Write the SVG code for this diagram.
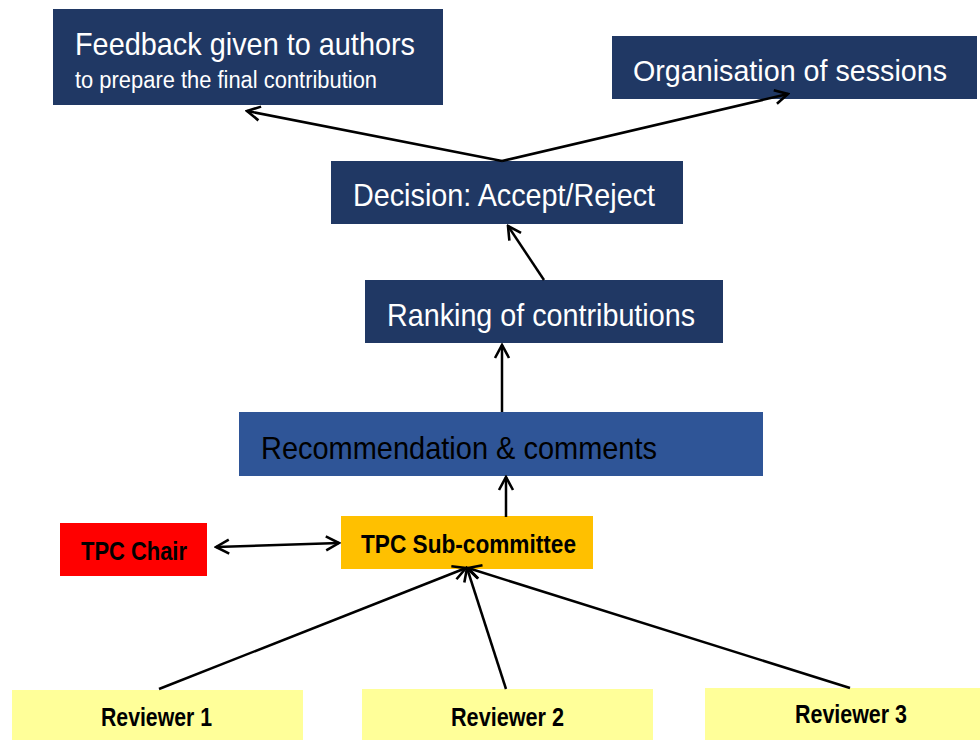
<svg xmlns="http://www.w3.org/2000/svg" width="980" height="740" viewBox="0 0 980 740">
<style>
.navy{fill:#203864}
.wt{fill:#ffffff;font-family:"Liberation Sans",Arial,sans-serif}
.bk{fill:#000000;font-family:"Liberation Sans",Arial,sans-serif}
.bd{fill:#000000;font-family:"Liberation Sans",Arial,sans-serif;font-weight:bold}
.rev{fill:#FFFF99}
.conn{stroke:#000;stroke-width:2.5;fill:none;marker-end:url(#arr)}
</style>
<defs>
<marker id="arr" viewBox="-15 -9 17 18" refX="0" refY="0" markerWidth="17" markerHeight="18" markerUnits="userSpaceOnUse" orient="auto-start-reverse">
<path d="M-13,-7 L0,0 L-13,7" fill="none" stroke="#000" stroke-width="2.6"/>
</marker>
</defs>
<rect width="980" height="740" fill="#ffffff"/>
<g id="feedback">
<rect class="navy" x="53" y="9" width="390" height="96"/>
<text class="wt" x="75" y="55" font-size="32" textLength="340" lengthAdjust="spacingAndGlyphs">Feedback given to authors</text>
<text class="wt" x="75" y="88" font-size="23" textLength="302" lengthAdjust="spacingAndGlyphs">to prepare the final contribution</text>
</g>
<g id="organisation">
<rect class="navy" x="612" y="36" width="365" height="63"/>
<text class="wt" x="633" y="81" font-size="30" textLength="314" lengthAdjust="spacingAndGlyphs">Organisation of sessions</text>
</g>
<g id="decision">
<rect class="navy" x="331" y="161" width="352" height="63"/>
<text class="wt" x="353" y="206" font-size="32" textLength="302" lengthAdjust="spacingAndGlyphs">Decision: Accept/Reject</text>
</g>
<g id="ranking">
<rect class="navy" x="365" y="280" width="358" height="63"/>
<text class="wt" x="387" y="326" font-size="32" textLength="308" lengthAdjust="spacingAndGlyphs">Ranking of contributions</text>
</g>
<g id="recommendation">
<rect x="239" y="412" width="524" height="64" fill="#2F5597"/>
<text class="bk" x="261" y="459" font-size="32" textLength="396" lengthAdjust="spacingAndGlyphs">Recommendation &amp; comments</text>
</g>
<g id="tpc-sub">
<rect x="341" y="516" width="252" height="53" fill="#FFC000"/>
<text class="bd" x="361" y="553" font-size="25" textLength="215" lengthAdjust="spacingAndGlyphs">TPC Sub-committee</text>
</g>
<g id="tpc-chair">
<rect x="60" y="523" width="147" height="53" fill="#FF0000"/>
<text class="bd" x="81" y="560" font-size="26" textLength="106" lengthAdjust="spacingAndGlyphs">TPC Chair</text>
</g>
<g id="reviewer1">
<rect class="rev" x="12" y="690" width="291" height="50"/>
<text class="bd" x="101" y="726" font-size="26" textLength="111" lengthAdjust="spacingAndGlyphs">Reviewer 1</text>
</g>
<g id="reviewer2">
<rect class="rev" x="362" y="689" width="291" height="51"/>
<text class="bd" x="451" y="726" font-size="26" textLength="113" lengthAdjust="spacingAndGlyphs">Reviewer 2</text>
</g>
<g id="reviewer3">
<rect class="rev" x="705" y="688" width="275" height="52"/>
<text class="bd" x="795" y="723" font-size="26" textLength="112" lengthAdjust="spacingAndGlyphs">Reviewer 3</text>
</g>
<g id="connectors">
<path class="conn" d="M502,161 L247,111"/>
<path class="conn" d="M502,161 L788,94"/>
<path class="conn" d="M544,280 L508,226"/>
<path class="conn" d="M502,412 L502,345"/>
<path class="conn" d="M506,517 L506,477"/>
<path class="conn" d="M216,547 L339,543" style="marker-start:url(#arr)"/>
<path class="conn" d="M159,689 L466,568"/>
<path class="conn" d="M506,689 L467,568"/>
<path class="conn" d="M850,688 L468,568"/>
</g>
</svg>
